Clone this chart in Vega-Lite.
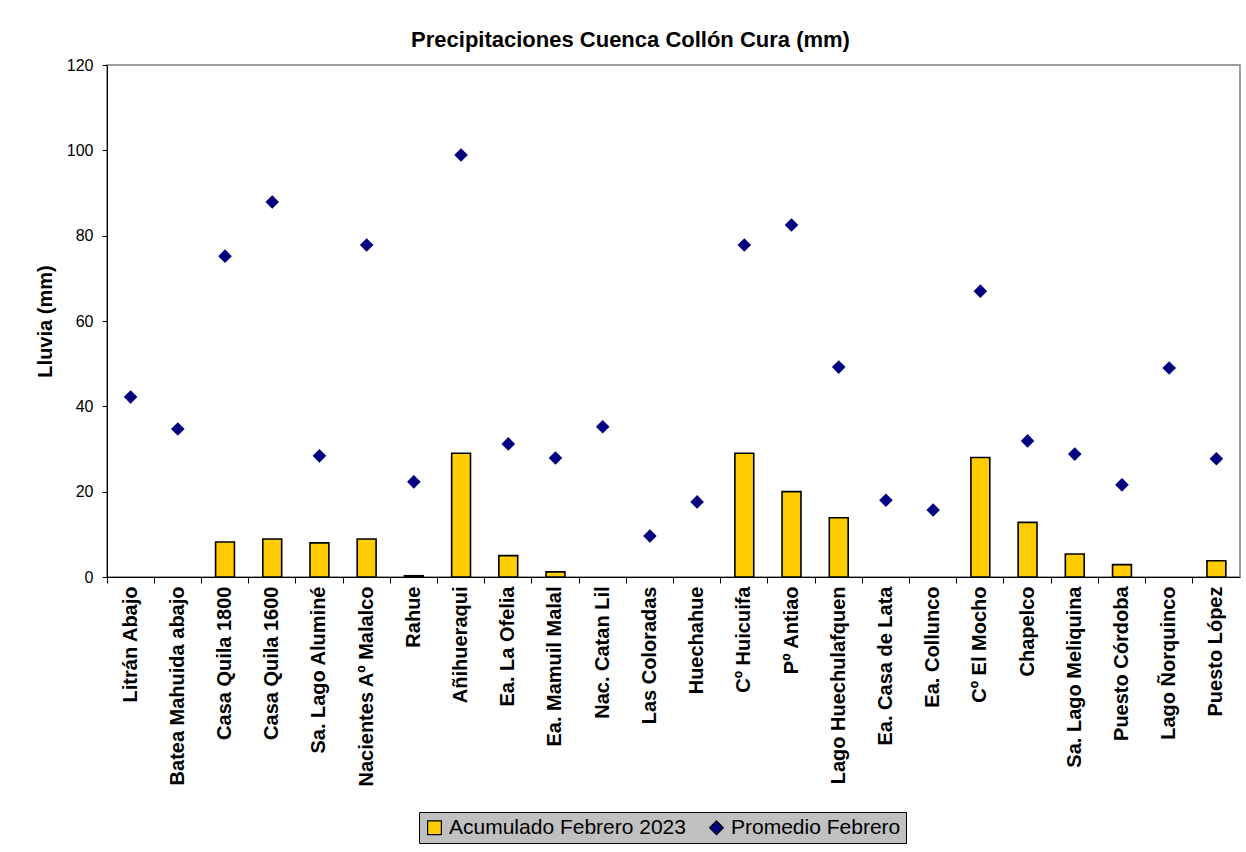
{
  "$schema": "https://vega.github.io/schema/vega-lite/v6.json",
  "width": 1133,
  "height": 512,
  "autosize": {"type": "none"},
  "padding": {"left": 107, "top": 65, "right": 6, "bottom": 275},
  "background": "white",
  "title": {"text": "Precipitaciones Cuenca Collón Cura (mm)", "fontSize": 22, "fontWeight": "bold", "anchor": "middle", "dx": -43, "offset": 5, "color": "black", "font": "Liberation Sans"},
  "datasets": {
    "orden": [
      {"estacion": "Litrán Abajo", "acum": null, "prom": 42.2},
      {"estacion": "Batea Mahuida abajo", "acum": null, "prom": 34.7},
      {"estacion": "Casa Quila 1800", "acum": 8.2, "prom": 75.2},
      {"estacion": "Casa Quila 1600", "acum": 8.9, "prom": 87.9},
      {"estacion": "Sa. Lago Aluminé", "acum": 8.0, "prom": 28.4},
      {"estacion": "Nacientes Aº Malalco", "acum": 8.9, "prom": 77.8},
      {"estacion": "Rahue", "acum": 0.3, "prom": 22.3},
      {"estacion": "Añihueraqui", "acum": 29.0, "prom": 98.9},
      {"estacion": "Ea. La Ofelia", "acum": 5.0, "prom": 31.2},
      {"estacion": "Ea. Mamuil Malal", "acum": 1.2, "prom": 27.9},
      {"estacion": "Nac. Catan Lil", "acum": null, "prom": 35.2},
      {"estacion": "Las Coloradas", "acum": null, "prom": 9.6},
      {"estacion": "Huechahue", "acum": null, "prom": 17.6},
      {"estacion": "Cº Huicuifa", "acum": 29.0, "prom": 77.8},
      {"estacion": "Pº Antiao", "acum": 20.0, "prom": 82.5},
      {"estacion": "Lago Huechulafquen", "acum": 13.9, "prom": 49.2},
      {"estacion": "Ea. Casa de Lata", "acum": null, "prom": 18.0},
      {"estacion": "Ea. Collunco", "acum": null, "prom": 15.7},
      {"estacion": "Cº El Mocho", "acum": 28.0, "prom": 67.0},
      {"estacion": "Chapelco", "acum": 12.8, "prom": 31.9},
      {"estacion": "Sa. Lago Meliquina", "acum": 5.4, "prom": 28.8},
      {"estacion": "Puesto Córdoba", "acum": 2.9, "prom": 21.6},
      {"estacion": "Lago Ñorquinco", "acum": null, "prom": 49.0},
      {"estacion": "Puesto López", "acum": 3.8, "prom": 27.7}
    ]
  },
  "data": {"name": "orden"},
  "layer": [
    {
      "mark": {"type": "bar", "width": {"band": 0.4}, "stroke": "black", "strokeWidth": 1.6},
      "encoding": {
        "x": {"field": "estacion", "type": "nominal",
              "sort": ["Litrán Abajo", "Batea Mahuida abajo", "Casa Quila 1800", "Casa Quila 1600", "Sa. Lago Aluminé", "Nacientes Aº Malalco", "Rahue", "Añihueraqui", "Ea. La Ofelia", "Ea. Mamuil Malal", "Nac. Catan Lil", "Las Coloradas", "Huechahue", "Cº Huicuifa", "Pº Antiao", "Lago Huechulafquen", "Ea. Casa de Lata", "Ea. Collunco", "Cº El Mocho", "Chapelco", "Sa. Lago Meliquina", "Puesto Córdoba", "Lago Ñorquinco", "Puesto López"],
              "scale": {"paddingInner": 0, "paddingOuter": 0},
              "axis": {"title": null, "labelAngle": -90, "labelFontSize": 20, "labelFontWeight": "bold", "labelPadding": 9, "ticks": false, "domain": true, "domainColor": "black", "labelColor": "black", "labelLimit": 400, "labelOverlap": false, "orient": "bottom"}},
        "y": {"field": "acum", "type": "quantitative",
              "scale": {"domain": [0, 120], "nice": false},
              "axis": {"title": "Lluvia (mm)", "values": [0, 20, 40, 60, 80, 100, 120], "labelFontSize": 16, "tickSize": 5, "labelPadding": 9, "titleFontSize": 20, "titleFontWeight": "bold", "titlePadding": 11, "grid": false, "domainColor": "black", "tickColor": "black", "labelColor": "black", "titleColor": "black"}},
        "color": {"datum": "Acumulado Febrero 2023", "type": "nominal",
                  "scale": {"domain": ["Acumulado Febrero 2023", "Promedio Febrero"], "range": ["#FFCC00", "#000080"]},
                  "legend": {"orient": "none", "legendX": 312, "legendY": 747, "direction": "horizontal", "title": null,
                             "fillColor": "#c0c0c0", "strokeColor": "#000000", "padding": 5, "labelFontSize": 21, "labelColor": "black", "labelLimit": 500,
                             "symbolSize": 190, "columnPadding": 20, "symbolStrokeWidth": 1.2, "symbolStrokeColor": "black"}}
      }
    },
    {
      "mark": {"type": "point", "shape": "diamond", "filled": true, "size": 185, "opacity": 1},
      "encoding": {
        "x": {"field": "estacion", "type": "nominal",
              "sort": ["Litrán Abajo", "Batea Mahuida abajo", "Casa Quila 1800", "Casa Quila 1600", "Sa. Lago Aluminé", "Nacientes Aº Malalco", "Rahue", "Añihueraqui", "Ea. La Ofelia", "Ea. Mamuil Malal", "Nac. Catan Lil", "Las Coloradas", "Huechahue", "Cº Huicuifa", "Pº Antiao", "Lago Huechulafquen", "Ea. Casa de Lata", "Ea. Collunco", "Cº El Mocho", "Chapelco", "Sa. Lago Meliquina", "Puesto Córdoba", "Lago Ñorquinco", "Puesto López"],
              "axis": {"title": null, "labels": false, "domain": false, "ticks": true, "tickSize": 6, "tickColor": "black", "bandPosition": 0, "orient": "bottom"}},
        "y": {"field": "prom", "type": "quantitative",
              "scale": {"domain": [0, 120], "nice": false},
              "axis": {"title": "Lluvia (mm)", "values": [0, 20, 40, 60, 80, 100, 120], "labelFontSize": 16, "tickSize": 5, "labelPadding": 9, "titleFontSize": 20, "titleFontWeight": "bold", "titlePadding": 11, "grid": false, "domainColor": "black", "tickColor": "black", "labelColor": "black", "titleColor": "black"}},
        "color": {"datum": "Promedio Febrero", "type": "nominal"},
        "shape": {"datum": "Promedio Febrero", "type": "nominal",
                  "scale": {"domain": ["Acumulado Febrero 2023", "Promedio Febrero"], "range": ["square", "diamond"]},
                  "legend": {"orient": "none", "legendX": 312, "legendY": 747, "direction": "horizontal", "title": null,
                             "fillColor": "#c0c0c0", "strokeColor": "#000000", "padding": 5, "labelFontSize": 21, "labelColor": "black", "labelLimit": 500,
                             "symbolSize": 190, "columnPadding": 20, "symbolStrokeWidth": 1.2, "symbolStrokeColor": "black"}}
      }
    }
  ],
  "resolve": {"axis": {"x": "independent"}},
  "config": {
    "font": "Liberation Sans",
    "view": {"stroke": "#808080", "strokeWidth": 1.5},
    "axis": {"grid": false}
  }
}
